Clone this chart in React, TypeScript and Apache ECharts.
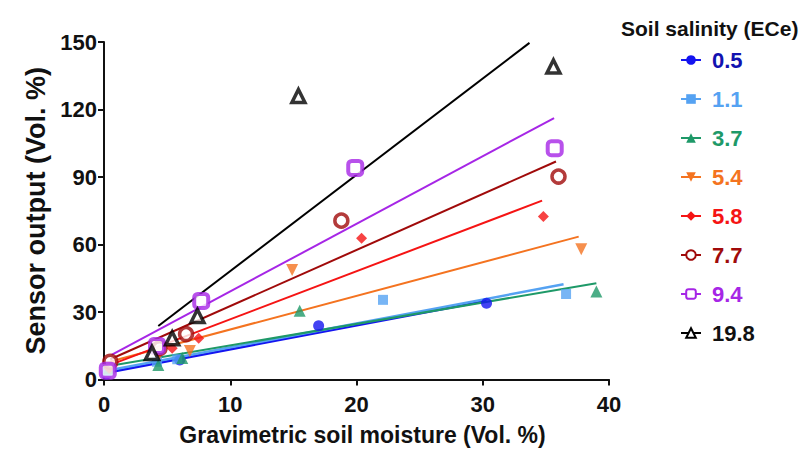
import React, { useEffect, useRef } from "react";
import * as echarts from "echarts";

const salinity = ["0.5", "1.1", "3.7", "5.4", "5.8", "7.7", "9.4", "19.8"];
const colors = ["#1414f0", "#55a2f2", "#1e9968", "#f47320", "#f51414", "#a00a0a", "#a626e6", "#000000"];
const textColors = ["#1212b0", "#55a2f2", "#1e9968", "#f47320", "#f51414", "#a00a0a", "#a626e6", "#111111"];

const pts05 = [[0.2, 2.4], [6.0, 8.7], [17.0, 23.9], [30.3, 33.9]];
const pts11 = [[0.3, 4.0], [4.2, 7.9], [5.8, 9.0], [22.1, 35.4], [36.6, 38.0]];
const pts37 = [[0.4, 5.0], [4.3, 6.4], [6.2, 9.6], [15.5, 30.6], [39.0, 39.1]];
const pts54 = [[0.5, 5.5], [4.4, 11.5], [6.8, 12.7], [14.9, 48.7], [37.8, 57.9]];
const pts58 = [[0.4, 5.0], [5.4, 13.9], [7.5, 18.3], [20.4, 62.8], [34.8, 72.4]];
const pts77 = [[0.5, 7.9], [4.4, 13.9], [6.5, 20.2], [18.8, 70.6], [36.0, 90.2]];
const pts94 = [[0.3, 3.9], [4.2, 14.9], [7.7, 34.9], [19.9, 94.0], [35.7, 102.8]];
const pts198 = [[3.8, 11.8], [5.4, 18.3], [7.4, 28.2], [15.4, 126.0], [35.6, 139.1]];

const fit05 = [[0.2, 3.0], [30.3, 35.0]];
const fit11 = [[0.3, 4.0], [36.4, 42.3]];
const fit37 = [[0.4, 6.0], [39.0, 42.8]];
const fit54 = [[0.5, 8.0], [37.6, 63.5]];
const fit58 = [[0.5, 6.5], [34.7, 79.5]];
const fit77 = [[0.5, 9.0], [35.8, 96.9]];
const fit94 = [[0.6, 10.9], [35.65, 116.2]];
const fit198 = [[4.3, 23.8], [33.7, 149.6]];

const points = [pts05, pts11, pts37, pts54, pts58, pts77, pts94, pts198];
const fits = [fit05, fit11, fit37, fit54, fit58, fit77, fit94, fit198];

const symbols = ["circle", "rect", "triangle", "triangle", "diamond", "circle", "roundRect", "triangle"];
const rotates = [0, 0, 0, 180, 0, 0, 0, 0];
const sizes = [11, 10, 12, 12, 11, 13, 14, 13];
const borderW = [0, 0, 0, 0, 0, 3.5, 4, 3.5];
const lineW = [2.5, 2.5, 2, 2, 2, 2, 2, 2];

const font = "'Liberation Sans', Arial, sans-serif";

export default function App() {
  const ref = useRef<HTMLDivElement>(null);
  useEffect(() => {
    if (!ref.current) return;
    const chart = echarts.init(ref.current, null, { renderer: "svg" });
    const series: any[] = [];
    const styleOf = (i: number) =>
      borderW[i] > 0
        ? { color: "#ffffff", borderColor: colors[i], borderWidth: borderW[i] }
        : { color: colors[i] };
    salinity.forEach((name, i) => {
      series.push({
        type: "line",
        name,
        data: fits[i],
        showSymbol: false,
        symbol: symbols[i],
        symbolRotate: rotates[i],
        symbolSize: sizes[i],
        itemStyle: styleOf(i),
        lineStyle: { color: colors[i], width: lineW[i] },
        silent: true,
        z: 2,
      });
    });
    salinity.forEach((name, i) => {
      series.push({
        type: "scatter",
        name,
        data: points[i],
        symbol: symbols[i],
        symbolRotate: rotates[i],
        symbolSize: sizes[i],
        itemStyle: styleOf(i),
        z: 3,
      });
    });
    chart.setOption({
      animation: false,
      backgroundColor: "#ffffff",
      textStyle: { fontFamily: font },
      title: {
        text: "Soil salinity (ECe)",
        left: 616,
        top: 13,
        textStyle: { fontFamily: font, fontSize: 21, fontWeight: "bold", color: "#111" },
      },
      legend: {
        orient: "vertical",
        left: 675,
        top: 43,
        itemWidth: 20,
        itemHeight: 12,
        itemGap: 15,
        data: salinity.map((n, i) => ({
          name: n,
          textStyle: { color: textColors[i] },
        })),
        textStyle: { fontFamily: font, fontSize: 22, fontWeight: "bold", lineHeight: 24, padding: [0, 0, 0, 6] },
      },
      grid: { left: 104, right: 195, top: 42, bottom: 80.5, containLabel: false },
      xAxis: {
        type: "value",
        min: 0,
        max: 40,
        interval: 10,
        name: "Gravimetric soil moisture (Vol. %)",
        nameLocation: "middle",
        nameGap: 44,
        nameTextStyle: { fontFamily: font, fontSize: 23, fontWeight: "bold", color: "#111", padding: [0, 0, 0, 12] },
        axisLine: { lineStyle: { color: "#111", width: 2 } },
        axisTick: { length: 6, lineStyle: { color: "#111", width: 2 } },
        axisLabel: { fontFamily: font, fontSize: 22, fontWeight: "bold", color: "#111", margin: 14 },
        splitLine: { show: false },
      },
      yAxis: {
        type: "value",
        min: 0,
        max: 150,
        interval: 30,
        name: "Sensor output (Vol. %)",
        nameLocation: "middle",
        nameGap: 42,
        nameTextStyle: { fontFamily: font, fontSize: 27, fontWeight: "bold", color: "#111" },
        axisLine: { show: true, lineStyle: { color: "#111", width: 2 } },
        axisTick: { show: true, length: 6, lineStyle: { color: "#111", width: 2 } },
        axisLabel: { fontFamily: font, fontSize: 22, fontWeight: "bold", color: "#111", margin: 7 },
        splitLine: { show: false },
      },
      series,
    });
    return () => chart.dispose();
  }, []);
  return (
    <div style={{ position: "absolute", left: 0, top: 0, width: 804, height: 460 }}>
      <div ref={ref} style={{ width: 804, height: 460 }} />
    </div>
  );
}
